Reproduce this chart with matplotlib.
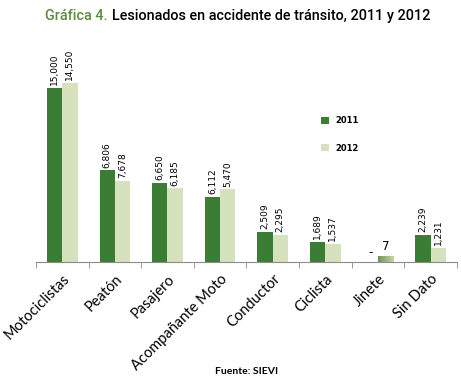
import numpy as np
import matplotlib
matplotlib.use("Agg")
import matplotlib.pyplot as plt

# ------ data ------
categorias = ["Motociclistas", "Peatón", "Pasajero", "Acompañante Moto",
              "Conductor", "Ciclista", "Jinete", "Sin Dato"]
# bar heights as drawn in the picture
alto_2011 = [15000, 7900, 6850, 5600, 2600, 1720, 0, 2330]
alto_2012 = [15450, 6980, 6350, 6260, 2330, 1550, 560, 1260]
# value labels as printed
etiq_2011 = ["15,000", "6,806", "6,650", "6,112", "2,509", "1,689", "-", "2,239"]
etiq_2012 = ["14,550", "7,678", "6,185", "5,470", "2,295", "1,537", "7", "1,231"]
anios = ["2011", "2012"]
# ------ /data ------

verde = "#3b7d35"
verde_claro = "#d5e2bd"
fuente = ["Roboto", "DejaVu Sans"]

fig = plt.figure(figsize=(4.61, 3.81), dpi=100)
ax = fig.add_axes([0.078, 0.312, 0.913, 0.583])

x = np.arange(len(categorias))
w = 0.29
b1 = ax.bar(x - w / 2, alto_2011, w, color=verde, label=anios[0])
b2 = ax.bar(x + w / 2, alto_2012, w, color=verde_claro, label=anios[1])

# Jinete bar has a gradient fill in the original
jin = b2[6]
jx, jy = jin.get_x(), jin.get_y()
grad = np.linspace(0, 1, 50).reshape(1, -1)
cmap = matplotlib.colors.LinearSegmentedColormap.from_list("g", ["#6f9455", "#c5d6ae"])
img = ax.imshow(grad, extent=[jx, jx + jin.get_width(), jy, jy + jin.get_height()],
                aspect="auto", cmap=cmap, zorder=3)
img.set_clip_path(jin)

for barras, etiquetas in ((b1, etiq_2011), (b2, etiq_2012)):
    for b, t in zip(barras, etiquetas):
        cx = b.get_x() + b.get_width() / 2
        if len(t) == 1:
            ax.annotate(t, (cx, b.get_height()), xytext=(0, 2), textcoords="offset points",
                        ha="center", va="bottom", fontsize=8.5)
        else:
            ax.annotate(t, (cx, b.get_height()), xytext=(0, 2), textcoords="offset points",
                        ha="center", va="bottom", rotation=90, fontsize=6.5)

ax.set_xlim(-0.5, len(categorias) - 0.5)
ax.set_ylim(0, 19140)
ax.set_yticks([])
for s in ["top", "right", "left"]:
    ax.spines[s].set_visible(False)
ax.spines["bottom"].set_color("#8c8c8c")

ax.set_xticks(x)
ax.set_xticklabels(categorias, rotation=45, ha="right", rotation_mode="anchor",
                   fontsize=10.5, family=["Lato", "DejaVu Sans"])
ax.tick_params(axis="x", which="major", length=0, pad=7)
ax.set_xticks(np.arange(-0.5, len(categorias)), minor=True)
ax.tick_params(axis="x", which="minor", length=4, color="#8c8c8c", direction="out")

leg = ax.legend(loc="upper left", bbox_to_anchor=(0.66, 0.69), frameon=False,
                handlelength=0.9, handleheight=0.9, labelspacing=2.2,
                prop={"weight": "bold", "size": 6})

t1 = fig.text(45 / 461, 1 - 20 / 381, "Gráfica 4.", color="#5b8c3e", fontsize=10.4,
              family=fuente, fontweight="medium", ha="left", va="baseline")
ax.annotate("Lesionados en accidente de tránsito, 2011 y 2012", xy=(1, 0),
            xycoords=t1, xytext=(3, 0), textcoords="offset points",
            fontsize=10.4, family=fuente, fontweight="medium", ha="left", va="bottom",
            annotation_clip=False)

fig.text(247 / 461, 1 - 372 / 381, "Fuente: SIEVI", ha="center", va="center",
         fontsize=7.5, fontweight="bold", family=["Lato", "DejaVu Sans"])

fig.savefig("out.png", dpi=100)
